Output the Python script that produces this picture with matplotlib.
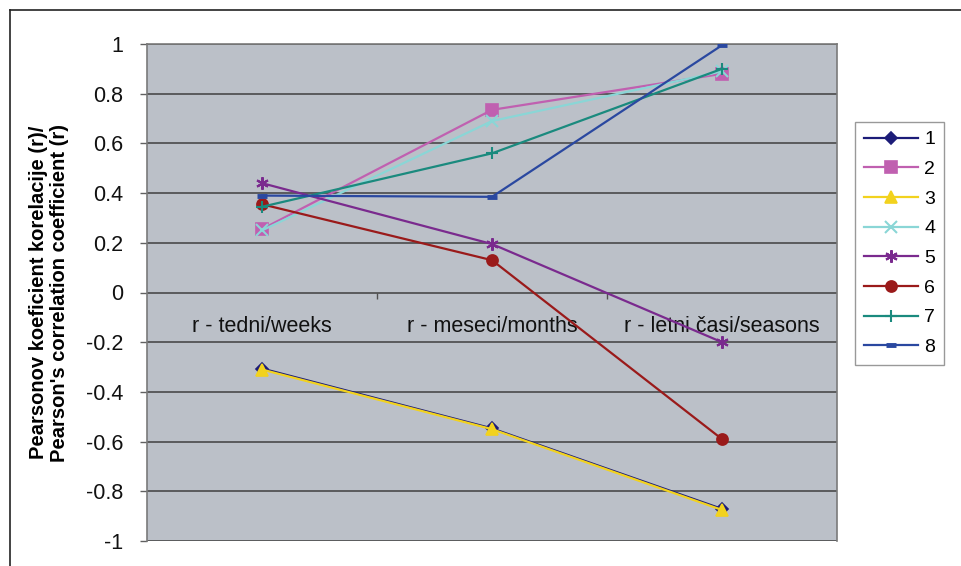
import matplotlib
matplotlib.use("Agg")
import matplotlib.pyplot as plt
from matplotlib.lines import Line2D
from matplotlib.ticker import FixedLocator, FuncFormatter

plt.rcParams['font.family'] = ['Liberation Sans', 'DejaVu Sans']
plt.rcParams['axes.unicode_minus'] = False

# categories on the x axis
kategorije = ["r - tedni/weeks", "r - meseci/months", "r - letni časi/seasons"]

# correlation coefficient per series
s1 = [-0.306, -0.547, -0.871]
s2 = [0.255, 0.735, 0.88]
s3 = [-0.31, -0.55, -0.875]
s4 = [0.25, 0.69, 0.89]
s5 = [0.44, 0.195, -0.20]
s6 = [0.355, 0.13, -0.59]
s7 = [0.345, 0.56, 0.90]
s8 = [0.39, 0.385, 0.995]

serije = [s1, s2, s3, s4, s5, s6, s7, s8]
imena = ["1", "2", "3", "4", "5", "6", "7", "8"]
barve = ['#1c1c78', '#c060b0', '#f2d21e', '#8ad6d6', '#7a2a8e', '#9a1a1a', '#1a8a7e', '#2a48a0']
markerji = ['D', 's', '^', 'x', (6, 2, 0), 'o', '+', '_']

fig = plt.figure(figsize=(9.62, 5.66), dpi=100)
ax = fig.add_axes([147/962, 1-541/566, 690/962, 497/566])

ax.set_facecolor('#bbc0c8')
x = list(range(len(kategorije)))

# series 1 first so the yellow triangles sit on top of it
for i, (vals, ime, c, m) in enumerate(zip(serije, imena, barve, markerji)):
    ms = 8
    mew = 1.2
    if m == 'D':
        ms = 6.5
    if m == '_':
        mew = 3.5
        ms = 7
    if m in ('x', '+'):
        mew = 1.5
    if m == (6, 2, 0):
        mew = 1.5
        ms = 9
    ax.plot(x, vals, color=c, lw=1.6, marker=m, markersize=ms,
            markerfacecolor=c, markeredgecolor=c, markeredgewidth=mew,
            label=ime, zorder=3 + (1 if i == 2 else 0))

ax.set_xlim(-0.5, 2.5)
ax.set_ylim(-1, 1)

# y axis
ax.yaxis.set_major_locator(FixedLocator([-1, -0.8, -0.6, -0.4, -0.2, 0, 0.2, 0.4, 0.6, 0.8, 1]))
ax.yaxis.set_major_formatter(FuncFormatter(lambda v, p: "%g" % round(v, 1)))
ax.tick_params(axis='y', direction='out', length=5, width=1, color='#606060',
               labelsize=15.5, pad=12, labelcolor='#111111')
ax.grid(axis='y', color='#4a4a4a', lw=1.2, zorder=1)
ax.set_axisbelow(True)

# category axis sits on y = 0
ax.spines['bottom'].set_position(('data', 0))
ax.spines['bottom'].set_visible(False)
ax.set_xticks(x)
ax.set_xticklabels(kategorije)
ax.set_xticks([0.5, 1.5], minor=True)
ax.tick_params(axis='x', which='major', length=0, labelsize=15.5, pad=17, labelcolor='#111111')
ax.tick_params(axis='x', which='minor', direction='out', length=4, width=1, color='#505050')

for s in ('left', 'top', 'right'):
    ax.spines[s].set_color('#7a7a7a')
    ax.spines[s].set_linewidth(1.2)

ax.set_ylabel("Pearsonov koeficient korelacije (r)/\nPearson's correlation coefficient (r)",
              fontsize=14.5, fontweight='bold', labelpad=12, linespacing=1.15)

# legend
h, l = ax.get_legend_handles_labels()
leg = fig.legend(h, l, loc='upper left', bbox_to_anchor=(855/962, 1-122/566),
                 fontsize=14, frameon=True, fancybox=False, handlelength=2.8,
                 labelspacing=0.62, borderpad=0.45, handletextpad=0.3,
                 borderaxespad=0)
leg.get_frame().set_edgecolor('#808080')
leg.get_frame().set_linewidth(1)

# outer chart border (top and left edges visible)
fig.add_artist(Line2D([10/962, 10/962], [0, 1-10/566], color='#222222', lw=1.2))
fig.add_artist(Line2D([10/962, 1], [1-10/566, 1-10/566], color='#222222', lw=1.2))

fig.savefig("out.png", dpi=100)
